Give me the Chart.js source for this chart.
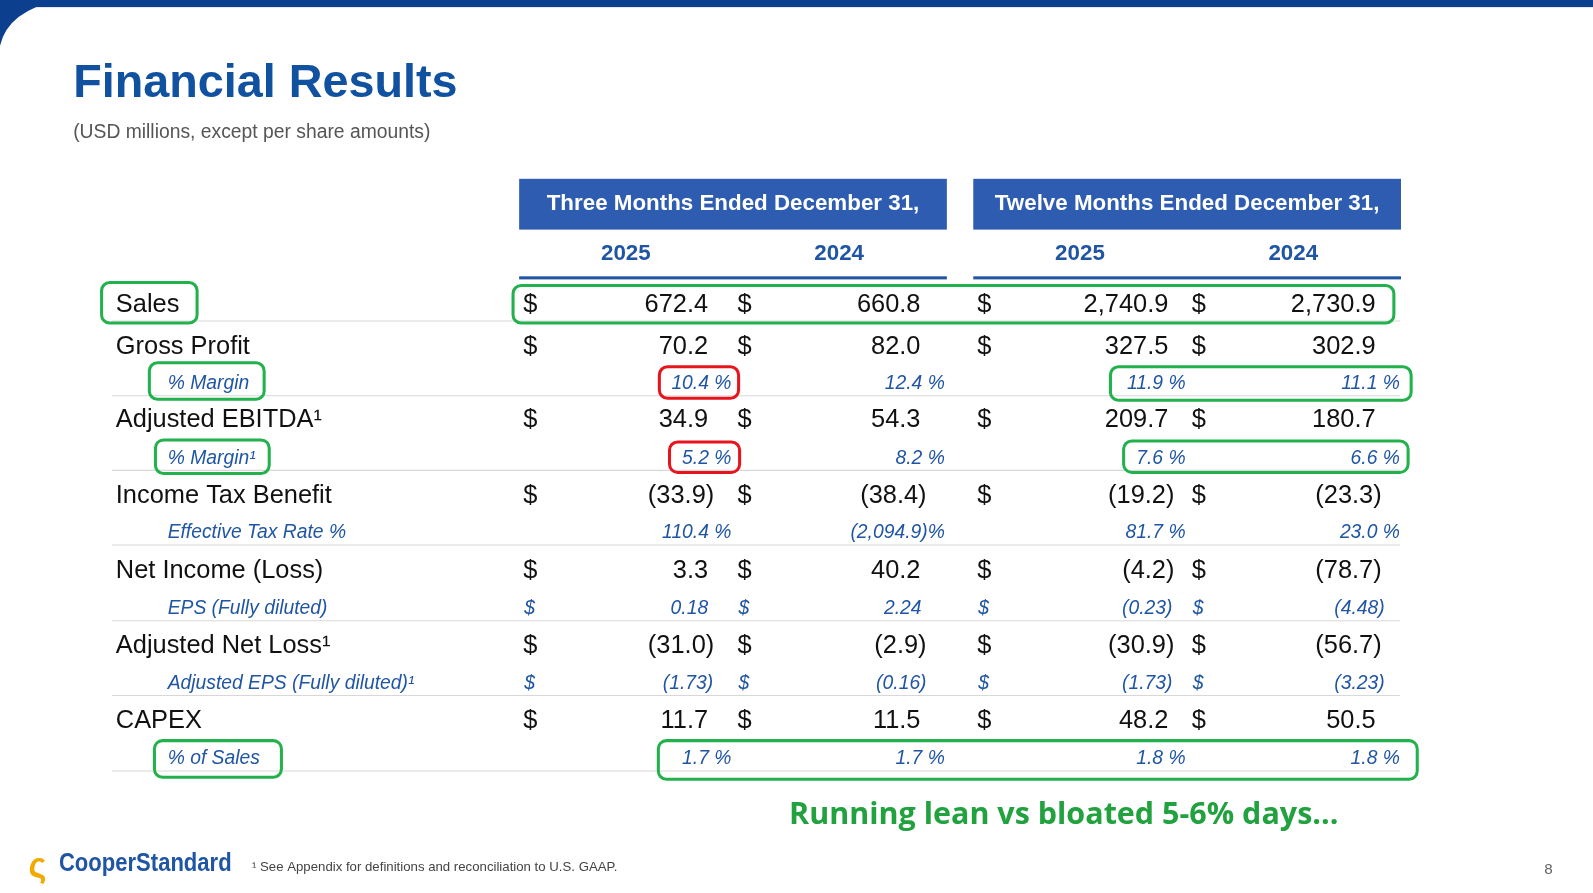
<!DOCTYPE html>
<html>
<head>
<meta charset="utf-8">
<script src="https://cdn.jsdelivr.net/npm/chart.js@4"></script>
<style>
  html, body { margin: 0; padding: 0; background: #fff; }
  #wrap { width: 1593px; height: 893px; position: relative; }
</style>
</head>
<body>
<div id="wrap"><canvas id="slide" width="1593" height="893"></canvas></div>
<script>
// row labels, top to bottom
const rowLabels = ['Sales', 'Gross Profit', '% Margin', 'Adjusted EBITDA¹', '% Margin¹',
  'Income Tax Benefit', 'Effective Tax Rate %', 'Net Income (Loss)', 'EPS (Fully diluted)',
  'Adjusted Net Loss¹', 'Adjusted EPS (Fully diluted)¹', 'CAPEX', '% of Sales'];
// 'main' rows carry $ values, 'pct' rows are percentages, 'eps' rows are per share
const rowKinds = ['main', 'main', 'pct', 'main', 'pct', 'main', 'pct', 'main', 'eps', 'main', 'eps', 'main', 'pct'];
const q4_2025 = ['672.4', '70.2', '10.4 %', '34.9', '5.2 %', '(33.9)', '110.4 %', '3.3', '0.18', '(31.0)', '(1.73)', '11.7', '1.7 %'];
const q4_2024 = ['660.8', '82.0', '12.4 %', '54.3', '8.2 %', '(38.4)', '(2,094.9)%', '40.2', '2.24', '(2.9)', '(0.16)', '11.5', '1.7 %'];
const fy_2025 = ['2,740.9', '327.5', '11.9 %', '209.7', '7.6 %', '(19.2)', '81.7 %', '(4.2)', '(0.23)', '(30.9)', '(1.73)', '48.2', '1.8 %'];
const fy_2024 = ['2,730.9', '302.9', '11.1 %', '180.7', '6.6 %', '(23.3)', '23.0 %', '(78.7)', '(4.48)', '(56.7)', '(3.23)', '50.5', '1.8 %'];
const periodHeaders = ['Three Months Ended December 31,', 'Twelve Months Ended December 31,'];
const yearLabels = ['2025', '2024', '2025', '2024'];

const S = 1593 / 1568;
const BLUE = '#1f55a3';
const GREEN = '#22b14c';
const RED = '#e8141c';

const dollarX = [522, 733, 969, 1180];
const valueRight = [697, 906, 1150, 1354];
const pctRight = [720, 930, 1167, 1378];
const epsRight = [697, 907, 1149, 1358];
// small vertical nudges (px) so rows follow the slide's uneven spacing
const rowNudge = [0, 4, 3, 2, 2, 2, 1, 1, 1, 1, 0, 0, 0];

function rrect(ctx, x, y, w, h, r) {
  ctx.beginPath();
  ctx.roundRect(x, y, w, h, r);
  ctx.stroke();
}

const tablePlugin = {
  id: 'table',
  afterDraw(chart) {
    const ctx = chart.ctx;
    const ys = chart.scales.y;
    const rowY = i => ys.getPixelForValue(i) / S + rowNudge[i];
    ctx.save();
    ctx.scale(S, S);
    // top band
    ctx.fillStyle = '#0d3f8f';
    ctx.fillRect(0, 0, 1593, 7);
    ctx.beginPath();
    ctx.moveTo(0, 0); ctx.lineTo(60, 0); ctx.quadraticCurveTo(8, 10, 0, 45); ctx.closePath();
    ctx.fill();

    ctx.textBaseline = 'middle';
    ctx.fillStyle = '#1152a0';
    ctx.font = 'bold 46px "Liberation Sans", Arial';
    ctx.fillText('Financial Results', 72, 83);
    ctx.fillStyle = '#555';
    ctx.font = '19px "Liberation Sans", Arial';
    ctx.fillText('(USD millions, except per share amounts)', 72, 131);

    // headers
    const boxes = [[511, 932], [958, 1379]];
    boxes.forEach(([a, b], k) => {
      ctx.fillStyle = '#2e5cb0';
      ctx.fillRect(a, 176, b - a, 50);
      ctx.fillStyle = '#fff';
      ctx.font = 'bold 22px "Liberation Sans", Arial';
      ctx.textAlign = 'center';
      ctx.fillText(periodHeaders[k], (a + b) / 2, 201);
      ctx.fillStyle = '#1f55a3';
      ctx.fillRect(a, 272, b - a, 3);
    });
    ctx.fillStyle = BLUE;
    ctx.font = 'bold 22px "Liberation Sans", Arial';
    [616, 826, 1063, 1273].forEach((x, i) => ctx.fillText(yearLabels[i], x, 250));

    // separators
    ctx.strokeStyle = '#d8d8d8';
    ctx.lineWidth = 1;
    [0, 2, 4, 6, 8, 10, 12].forEach(i => {
      const y = i === 0 ? rowY(0) + 17 : rowY(i) + 13;
      ctx.beginPath(); ctx.moveTo(110, y); ctx.lineTo(1378, y); ctx.stroke();
    });

    const cols = [q4_2025, q4_2024, fy_2025, fy_2024];
    rowLabels.forEach((lab, i) => {
      const y = rowY(i) + 1;
      const kind = rowKinds[i];
      ctx.textAlign = 'left';
      if (kind === 'main') {
        ctx.fillStyle = '#111';
        ctx.font = '25px "Liberation Sans", Arial';
        ctx.fillText(lab, 114, y);
        cols.forEach((c, k) => {
          ctx.textAlign = 'left';
          ctx.fillText('$', dollarX[k] - 7, y);
          ctx.textAlign = 'right';
          ctx.fillText(c[i], valueRight[k] + (c[i].endsWith(')') ? 6 : 0), y);
        });
      } else {
        ctx.fillStyle = BLUE;
        ctx.font = 'italic 19px "Liberation Sans", Arial';
        ctx.fillText(lab, 165, y);
        cols.forEach((c, k) => {
          if (kind === 'eps') {
            ctx.textAlign = 'left';
            ctx.fillText('$', dollarX[k] - 6, y);
            ctx.textAlign = 'right';
            ctx.fillText(c[i], epsRight[k] + (c[i].endsWith(')') ? 5 : 0), y);
          } else {
            ctx.textAlign = 'right';
            ctx.fillText(c[i], pctRight[k], y);
          }
        });
      }
    });

    // highlight boxes
    ctx.lineWidth = 3;
    ctx.strokeStyle = GREEN;
    rrect(ctx, 100, 278, 94, 40, 8);
    rrect(ctx, 505, 281, 867, 37, 8);
    rrect(ctx, 147, 357, 113, 36, 8);
    rrect(ctx, 1093, 361, 296, 33, 8);
    rrect(ctx, 153, 433, 112, 33, 8);
    rrect(ctx, 1106, 434, 280, 31, 8);
    rrect(ctx, 152, 729, 125, 36, 8);
    rrect(ctx, 648, 729, 747, 38, 8);
    ctx.strokeStyle = RED;
    rrect(ctx, 649, 361, 78, 31, 8);
    rrect(ctx, 659, 435, 69, 30, 8);

    // annotation
    ctx.textAlign = 'center';
    ctx.fillStyle = '#22a23e';
    ctx.font = 'bold 30px "Open Sans", "Noto Sans", sans-serif';
    ctx.fillText('Running lean vs bloated 5-6% days...', 1047, 803);

    // footer
    ctx.textAlign = 'left';
    ctx.fillStyle = '#f2a900';
    ctx.font = 'bold 34px "Liberation Sans", Arial';
    ctx.fillText('ς', 28, 854);
    ctx.fillStyle = '#1f55a3';
    ctx.font = 'bold 26px "Liberation Sans Narrow", "Liberation Sans", Arial';
    const lw = ctx.measureText('CooperStandard').width;
    ctx.save();
    ctx.translate(58, 850);
    ctx.scale(170 / lw, 1);
    ctx.fillText('CooperStandard', 0, 0);
    ctx.restore();
    ctx.fillStyle = '#444';
    ctx.font = '13px "Liberation Sans", Arial';
    ctx.fillText('¹ See Appendix for definitions and reconciliation to U.S. GAAP.', 248, 854);
    ctx.fillStyle = '#666';
    ctx.font = '15px "Liberation Sans", Arial';
    ctx.fillText('8', 1520, 856);
    ctx.restore();
  }
};

new Chart(document.getElementById('slide'), {
  type: 'scatter',
  data: { labels: rowLabels, datasets: [{ data: [], showLine: false }] },
  options: {
    responsive: false,
    animation: false,
    events: [],
    layout: { padding: { top: 299 * S, bottom: 893 - 746 * S, left: 0, right: 0 } },
    plugins: { legend: { display: false }, tooltip: { enabled: false } },
    scales: {
      x: { type: 'linear', min: 0, max: 1593, display: false },
      y: { type: 'category', labels: rowLabels, offset: false, display: false }
    }
  },
  plugins: [tablePlugin]
});
</script>
</body>
</html>
